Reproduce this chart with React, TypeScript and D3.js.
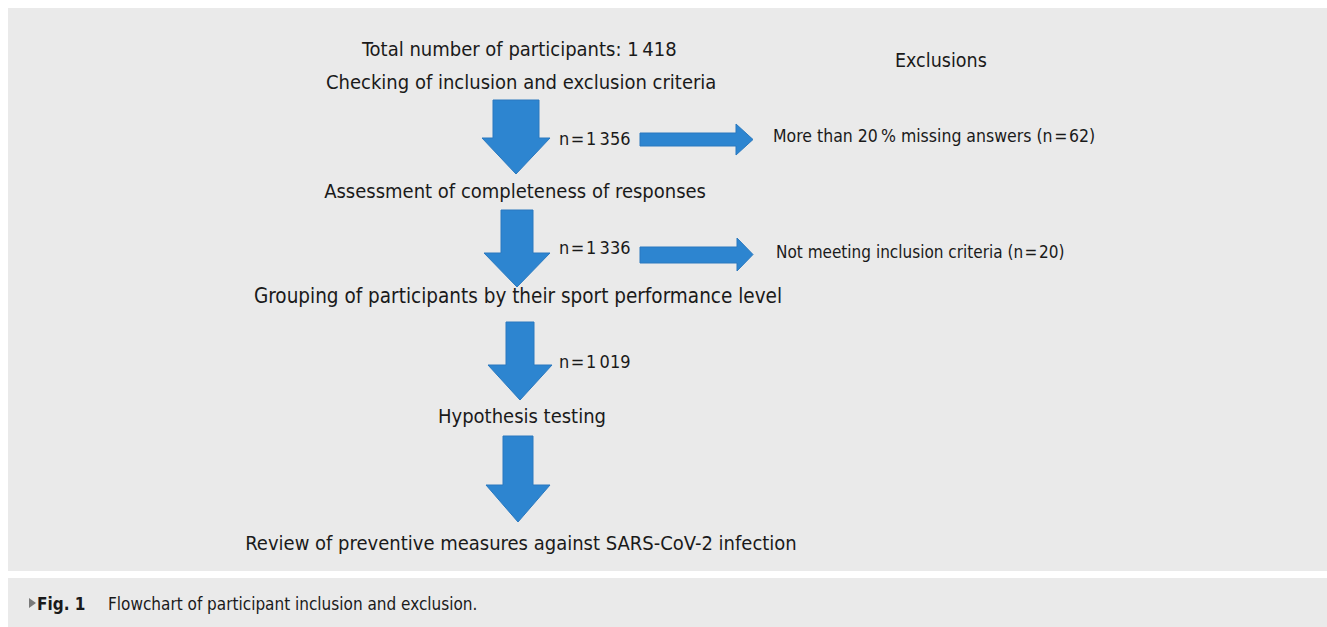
import { useMemo } from "react"
import { path } from "d3"

// flow steps, top to bottom
const steps = [
  "Total number of participants: 1\u2009418",
  "Checking of inclusion and exclusion criteria",
  "Assessment of completeness of responses",
  "Grouping of participants by their sport performance level",
  "Hypothesis testing",
  "Review of preventive measures against SARS-CoV-2 infection",
]
const remaining = ["n\u200A=\u200A1\u2009356", "n\u200A=\u200A1\u2009336", "n\u200A=\u200A1\u2009019"]
const exclusionHeader = "Exclusions"
const exclusions = [
  "More than 20\u2009% missing answers (n\u200A=\u200A62)",
  "Not meeting inclusion criteria (n\u200A=\u200A20)",
]
const captionLabel = "Fig. 1"
const captionText = "Flowchart of participant inclusion and exclusion."

const W = 1327
const H = 627
const FONT = "'Liberation Sans Narrow', 'DejaVu Sans Condensed', 'Noto Sans', sans-serif"
const BLUE = "#2d85d0"

function downArrow(cx: number, top: number, headTop: number, tip: number, shaft: number, head: number) {
  const p = path()
  p.moveTo(cx - shaft, top)
  p.lineTo(cx + shaft, top)
  p.lineTo(cx + shaft, headTop)
  p.lineTo(cx + head, headTop)
  p.lineTo(cx, tip)
  p.lineTo(cx - head, headTop)
  p.lineTo(cx - shaft, headTop)
  p.closePath()
  return p.toString()
}

function rightArrow(x0: number, y0: number, y1: number, headX: number, hy0: number, hy1: number, tip: number) {
  const p = path()
  p.moveTo(x0, y0)
  p.lineTo(headX, y0)
  p.lineTo(headX, hy0)
  p.lineTo(tip, (hy0 + hy1) / 2)
  p.lineTo(headX, hy1)
  p.lineTo(headX, y1)
  p.lineTo(x0, y1)
  p.closePath()
  return p.toString()
}

export default function App() {
  // where each step label sits
  const stepPos = [
    { x: 362, y: 56, anchor: "start", size: 20 },
    { x: 326, y: 89, anchor: "start", size: 20 },
    { x: 706, y: 198, anchor: "end", size: 20 },
    { x: 518, y: 303, anchor: "middle", size: 20.5 },
    { x: 522, y: 423, anchor: "middle", size: 20 },
    { x: 521, y: 550, anchor: "middle", size: 20 },
  ]
  const countPos = [145, 254, 368]
  const exclPos = [
    { x: 773, y: 142, size: 17.5 },
    { x: 776, y: 258, size: 17 },
  ]

  const downs = useMemo(
    () => [
      downArrow(516, 100, 138, 174, 23, 34),
      downArrow(517, 210, 253, 287, 16, 33),
      downArrow(520, 322, 365, 400, 14, 32),
      downArrow(518, 436, 485, 522, 15, 32),
    ],
    []
  )
  const rights = useMemo(
    () => [
      rightArrow(640, 133, 146, 736, 124, 155, 753),
      rightArrow(640, 247, 263, 737, 238, 271, 753),
    ],
    []
  )

  return (
    <div style={{ position: "absolute", left: 0, top: 0, width: W, height: H, background: "#fff" }}>
      <svg width={W} height={H} style={{ display: "block" }} fontFamily={FONT}>
        <rect x={8} y={8} width={W - 8} height={563} fill="#eaeaea" />
        <rect x={8} y={578} width={W - 8} height={H - 578} fill="#eaeaea" />

        {downs.map((d, i) => (
          <path key={`d-${i}`} d={d} fill={BLUE} stroke="#2a79bf" strokeWidth={1} />
        ))}
        {rights.map((d, i) => (
          <path key={`r-${i}`} d={d} fill={BLUE} stroke="#2a79bf" strokeWidth={1} />
        ))}

        {steps.map((s, i) => (
          <text
            key={s}
            x={stepPos[i].x}
            y={stepPos[i].y}
            textAnchor={stepPos[i].anchor}
            fontSize={`${stepPos[i].size}px`}
            fill="#1a1a1a"
          >
            {s}
          </text>
        ))}
        {remaining.map((s, i) => (
          <text key={s} x={559} y={countPos[i]} fontSize="18px" fill="#1a1a1a">
            {s}
          </text>
        ))}
        <text x={895} y={67} fontSize="19.5px" fill="#1a1a1a">
          {exclusionHeader}
        </text>
        {exclusions.map((s, i) => (
          <text key={s} x={exclPos[i].x} y={exclPos[i].y} fontSize={`${exclPos[i].size}px`} fill="#1a1a1a">
            {s}
          </text>
        ))}

        <path d="M29,598 L36,603 L29,608 Z" fill="#7a7a7a" />
        <text x={37} y={610} fontSize="17px" fill="#1a1a1a" fontWeight="700">
          {captionLabel}
        </text>
        <text x={108} y={610} fontSize="17px" fill="#1a1a1a">
          {captionText}
        </text>
      </svg>
    </div>
  )
}
